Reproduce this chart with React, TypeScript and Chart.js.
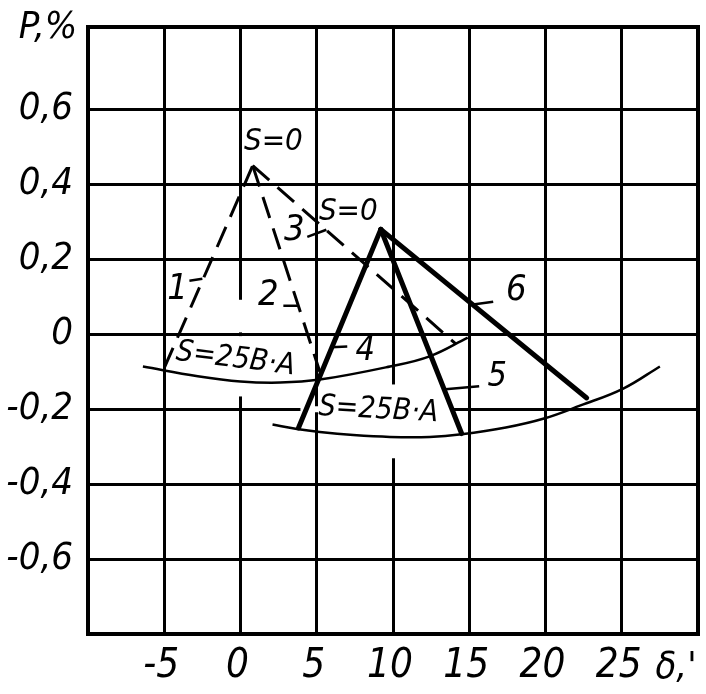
import React, { useEffect, useRef } from 'react';
import { Chart, registerables } from 'chart.js';

Chart.register(...registerables);

// ---- axes ----
const X_MIN = -10;
const X_MAX = 30;
const Y_MIN = -0.8;
const Y_MAX = 0.82;
const xTicks = [-10, -5, 0, 5, 10, 15, 20, 25, 30];
const yTicks = [-0.8, -0.6, -0.4, -0.2, 0, 0.2, 0.4, 0.6];
const xTickHidden = [-10, 30];
const yTickHidden = [-0.8];

// ---- family 1 (dashed, apex S=0) ----
const line1X = [-5.0, 0.8];
const line1Y = [-0.09, 0.45];
const line2X = [0.8, 5.2];
const line2Y = [0.45, -0.1];
const line3X = [0.8, 14.1];
const line3Y = [0.45, -0.025];
// curve S = 25 B·A, family 1
const curve1X = [-6.4, -2.8, 0, 2.6, 5.2, 9.8, 12.4, 14.9];
const curve1Y = [-0.086, -0.112, -0.126, -0.129, -0.121, -0.086, -0.059, -0.009];

// ---- family 2 (thick, apex S=0) ----
const line4X = [3.8, 9.2];
const line4Y = [-0.25, 0.28];
const line5X = [9.2, 14.5];
const line5Y = [0.28, -0.265];
const line6X = [9.2, 22.7];
const line6Y = [0.28, -0.17];
// curve S = 25 B·A, family 2
const curve2X = [2.1, 3.7, 5.2, 7.4, 9.8, 12.4, 14.5, 17.4, 19.9, 22.3, 25.1, 27.5];
const curve2Y = [-0.241, -0.253, -0.261, -0.269, -0.274, -0.274, -0.267, -0.249, -0.225, -0.19, -0.145, -0.086];

// ---- annotations (text) ----
const labelText = ['1', '2', '3', '4', '5', '6', 'S=0', 'S=0', 'S=25B·A', 'S=25B·A'];
const labelX = [-4.13, 1.83, 3.53, 8.18, 16.84, 18.08, 2.16, 7.07, -0.33, 9.04];
const labelY = [0.119, 0.103, 0.276, -0.046, -0.115, 0.116, 0.513, 0.327, -0.067, -0.203];
const labelAngle = [0, 0, 0, 0, 0, 0, 0, 0, 7, 3];
const labelSize = [36, 36, 36, 34, 34, 36, 31, 31, 30, 30];
const labelSpacing = [0, 0, 0, 0, 0, 0, 0, 0, 0, 0];

// leader strokes [x1, y1, x2, y2]
const leaders = [
  [-3.35, 0.143, -2.5, 0.148],
  [2.81, 0.076, 3.79, 0.076],
  [4.38, 0.26, 5.63, 0.279],
  [5.96, -0.035, 7.0, -0.033],
  [13.43, -0.147, 15.65, -0.139],
  [15.13, 0.079, 16.57, 0.087],
];

// grid breaks under labels [x1, y1, x2, y2]
const gridGaps = [
  [0, 0.092, 0, 0.005],
  [0, -0.005, 0, -0.166],
  [10, -0.134, 10, -0.331],
  [3.93, -0.2, 13.95, -0.2],
];

const FONT = '"Liberation Sans Narrow", "DejaVu Sans Condensed", "Liberation Sans", sans-serif';

const pts = (xs: number[], ys: number[]) => xs.map((x, i) => ({ x, y: ys[i] }));

const fmtY = (v: number) => {
  const r = Math.round(v * 10) / 10;
  if (r === 0) return '0';
  return (r < 0 ? '-' : '') + Math.abs(r).toFixed(1).replace('.', ',');
};

const annotPlugin = {
  id: 'annot',
  beforeDatasetsDraw(chart: any) {
    const { ctx, scales, chartArea: a } = chart;
    const sx = scales.x;
    const sy = scales.y;
    ctx.save();
    ctx.strokeStyle = '#fff';
    ctx.lineWidth = 6;
    ctx.lineCap = 'butt';
    gridGaps.forEach((g) => {
      ctx.beginPath();
      ctx.moveTo(sx.getPixelForValue(g[0]), sy.getPixelForValue(g[1]));
      ctx.lineTo(sx.getPixelForValue(g[2]), sy.getPixelForValue(g[3]));
      ctx.stroke();
    });
    ctx.strokeStyle = '#000';
    ctx.lineWidth = 4;
    ctx.strokeRect(a.left, a.top, a.right - a.left, a.bottom - a.top);
    ctx.restore();
  },
  afterDatasetsDraw(chart: any) {
    const { ctx, scales, chartArea: a } = chart;
    const sx = scales.x;
    const sy = scales.y;
    ctx.save();
    ctx.strokeStyle = '#000';
    ctx.lineWidth = 2.5;
    leaders.forEach((l) => {
      ctx.beginPath();
      ctx.moveTo(sx.getPixelForValue(l[0]), sy.getPixelForValue(l[1]));
      ctx.lineTo(sx.getPixelForValue(l[2]), sy.getPixelForValue(l[3]));
      ctx.stroke();
    });
    ctx.fillStyle = '#000';
    ctx.textAlign = 'center';
    ctx.textBaseline = 'middle';
    labelText.forEach((t, i) => {
      ctx.save();
      ctx.translate(sx.getPixelForValue(labelX[i]), sy.getPixelForValue(labelY[i]));
      ctx.rotate((labelAngle[i] * Math.PI) / 180);
      ctx.font = `italic ${labelSize[i]}px ${FONT}`;
      (ctx as any).letterSpacing = `${labelSpacing[i]}px`;
      ctx.fillText(t, 0, 0);
      ctx.restore();
    });
    // axis titles
    ctx.font = `italic 38px ${FONT}`;
    ctx.textAlign = 'center';
    ctx.fillText('P,%', a.left - 40, a.top + 1);
    ctx.fillText("δ,'", a.right - 22, a.bottom + 34);
    ctx.restore();
  },
};

export default function App() {
  const ref = useRef<HTMLCanvasElement | null>(null);
  useEffect(() => {
    if (!ref.current) return;
    const thin = { showLine: true, pointRadius: 0, borderColor: '#000', borderWidth: 2.5, tension: 0.4 };
    const dashed = { showLine: true, pointRadius: 0, borderColor: '#000', borderWidth: 3, borderDash: [22, 11] };
    const thick = { showLine: true, pointRadius: 0, borderColor: '#000', borderWidth: 5, borderCapStyle: 'round' as const };
    const chart = new Chart(ref.current, {
      type: 'scatter',
      data: {
        datasets: [
          { label: 'S=25 (1)', data: pts(curve1X, curve1Y), ...thin },
          { label: '1', data: pts(line1X, line1Y), ...dashed },
          { label: '2', data: pts(line2X, line2Y), ...dashed },
          { label: '3', data: pts(line3X, line3Y), ...dashed },
          { label: 'S=25 (2)', data: pts(curve2X, curve2Y), ...thin },
          { label: '4', data: pts(line4X, line4Y), ...thick },
          { label: '5', data: pts(line5X, line5Y), ...thick },
          { label: '6', data: pts(line6X, line6Y), ...thick },
        ] as any,
      },
      options: {
        animation: false,
        responsive: false,
        devicePixelRatio: 1,
        layout: { padding: { left: 0, right: 8, top: 27, bottom: 0 } },
        plugins: { legend: { display: false }, tooltip: { enabled: false } },
        scales: {
          x: {
            type: 'linear',
            min: X_MIN,
            max: X_MAX,
            afterBuildTicks: (s: any) => { s.ticks = xTicks.map((v) => ({ value: v })); },
            afterFit: (s: any) => { s.height = 60; s.paddingLeft = 0; s.paddingRight = 0; },
            grid: { color: '#000', lineWidth: 3, drawTicks: false },
            border: { display: false },
            ticks: {
              color: '#000',
              padding: 13,
              labelOffset: -3,
              maxRotation: 0,
              autoSkip: false,
              font: { family: FONT, size: 40, style: 'italic', lineHeight: 1 },
              callback: (v: any) => (xTickHidden.includes(Number(v)) ? '' : String(v)),
            },
          },
          y: {
            type: 'linear',
            min: Y_MIN,
            max: Y_MAX,
            afterBuildTicks: (s: any) => { s.ticks = yTicks.map((v) => ({ value: v })); },
            afterFit: (s: any) => { s.width = 88; s.paddingTop = 0; s.paddingBottom = 0; },
            grid: { color: '#000', lineWidth: 3, drawTicks: false },
            border: { display: false },
            ticks: {
              color: '#000',
              padding: 15,
              autoSkip: false,
              font: { family: FONT, size: 38, style: 'italic', lineHeight: 1 },
              callback: (v: any) => (yTickHidden.some((h) => Math.abs(h - Number(v)) < 1e-6) ? '' : fmtY(Number(v))),
            },
          },
        },
      },
      plugins: [annotPlugin],
    });
    return () => chart.destroy();
  }, []);
  return (
    <div style={{ position: 'fixed', left: 0, top: 0, width: 706, height: 694, background: '#fff' }}>
      <canvas ref={ref} width={706} height={694} />
    </div>
  );
}
